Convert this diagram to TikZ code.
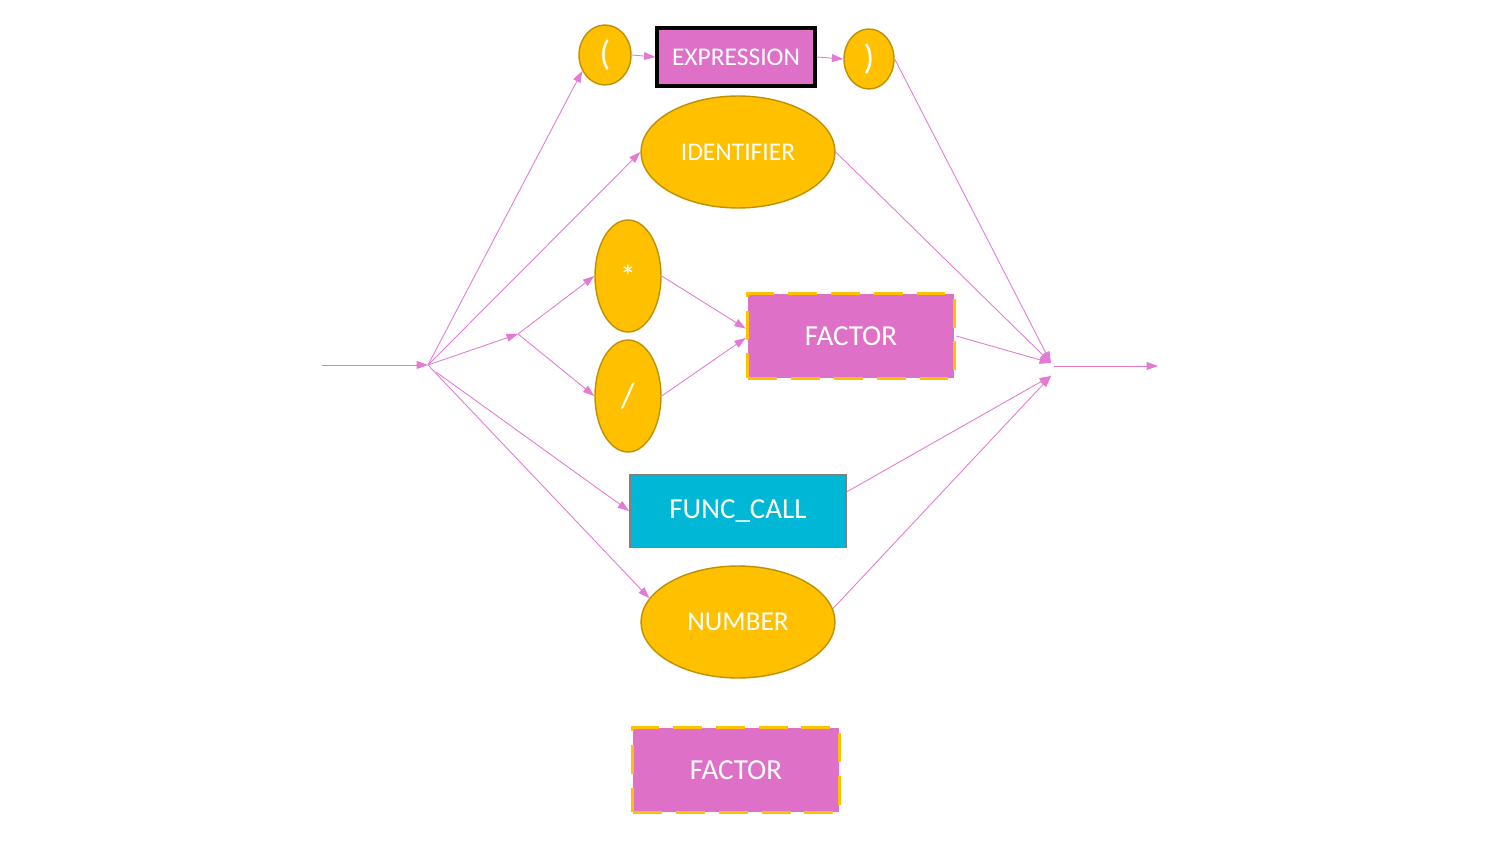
\documentclass[tikz,border=0pt]{standalone}
\usepackage{fontspec}
\setmainfont{Carlito}
\usetikzlibrary{shapes,positioning,arrows.meta}

\definecolor{tokfill}{HTML}{FFC000}
\definecolor{tokedge}{HTML}{BF9000}
\definecolor{rulefill}{HTML}{DE70C8}
\definecolor{callfill}{HTML}{00B7D5}
\definecolor{linkpink}{HTML}{E27AD6}

\begin{document}
\begin{tikzpicture}[x=0.02cm,y=-0.02cm]

  \useasboundingbox (0,0) rectangle (1500,844);

  \coordinate (In) at (322,365);
  \coordinate (Split) at (428,365);
  \coordinate (SplitB) at (436,372);
  \coordinate (MulDiv) at (518,334);
  \coordinate (Join) at (1051,363);
  \coordinate (JoinB) at (1051,376);
  \coordinate (JoinOut) at (1054,366);
  \coordinate (Out) at (1158,366);

  \tikzstyle{tok}=[shape=ellipse,draw=tokedge,line width=0.8pt,
                   fill=tokfill,text=white,inner sep=0pt];
  \tikzstyle{rulebox}=[shape=rectangle,fill=rulefill,text=white,
                       inner sep=0pt];
  \tikzstyle{link}=[draw=linkpink,line width=0.5pt,
                    -{Triangle[length=6.5pt,width=4.5pt]}];

  % upper row
  \node[tok,minimum width=1.04cm,minimum height=1.2cm] (LParen) at (605,55)
       {\fontsize{20}{22}\selectfont (};
  \node[rulebox,draw=black,line width=1.8pt,minimum width=3.16cm,
        minimum height=1.16cm] (ExprBox) at (736,57)
       {\fontsize{14.5}{16}\selectfont EXPRESSION};
  \node[tok,minimum width=1.0cm,minimum height=1.2cm] (RParen) at (869,59)
       {\fontsize{20}{22}\selectfont )};

  \node[tok,minimum width=3.88cm,minimum height=2.24cm] (IdentTok) at (738,152)
       {\fontsize{14.5}{16}\selectfont IDENTIFIER};

  % operators
  \node[tok,minimum width=1.32cm,minimum height=2.24cm] (MulTok) at (628,276)
       {\fontsize{18}{20}\selectfont *};
  \node[tok,minimum width=1.32cm,minimum height=2.24cm] (DivTok) at (628,396)
       {\fontsize{20}{22}\selectfont /};

  \node[rulebox,draw=tokfill,line width=2pt,dash pattern=on 0.58cm off 0.28cm,
        minimum width=4.14cm,minimum height=1.7cm] (FactorBox) at (851,336)
       {\fontsize{16.5}{18}\selectfont FACTOR};

  % lower row
  \node[rectangle,draw=gray,line width=1pt,fill=callfill,text=white,
        minimum width=4.32cm,minimum height=1.46cm] (CallBox) at (738,511)
       {\fontsize{16.5}{18}\selectfont FUNC\_CALL};

  \node[tok,minimum width=3.88cm,minimum height=2.24cm] (NumTok) at (738,622)
       {\fontsize{15.5}{17}\selectfont NUMBER};

  \node[rulebox,draw=tokfill,line width=2pt,dash pattern=on 0.58cm off 0.28cm,
        minimum width=4.14cm,minimum height=1.7cm] (LegendBox) at (736,770)
       {\fontsize{16.5}{18}\selectfont FACTOR};

  % left fan
  \draw[link] (In) -- (Split);
  \draw[link] (Split) -- (LParen.215);
  \draw[link] (Split) -- (IdentTok.west);
  \draw[link] (Split) -- (MulDiv);
  \draw[link] (SplitB) -- (CallBox.west);
  \draw[link] (Split) -- (NumTok.165);

  \draw[link] (MulDiv) -- (MulTok.west);
  \draw[link] (MulDiv) -- (DivTok.west);
  \draw[link] (MulTok.east) -- (FactorBox.176);
  \draw[link] (DivTok.east) -- (FactorBox.181);

  \draw[link] (LParen.east) -- (ExprBox.west);
  \draw[link] (ExprBox.east) -- (RParen.west);

  % right fan
  \draw[link] (RParen.east) -- (Join);
  \draw[link] (IdentTok.east) -- (Join);
  \draw[link] (FactorBox.east) -- (Join);
  \draw[link] (CallBox.10) -- (JoinB);
  \draw[link] (NumTok.8) -- (JoinB);
  \draw[link] (JoinOut) -- (Out);

\end{tikzpicture}
\end{document}
